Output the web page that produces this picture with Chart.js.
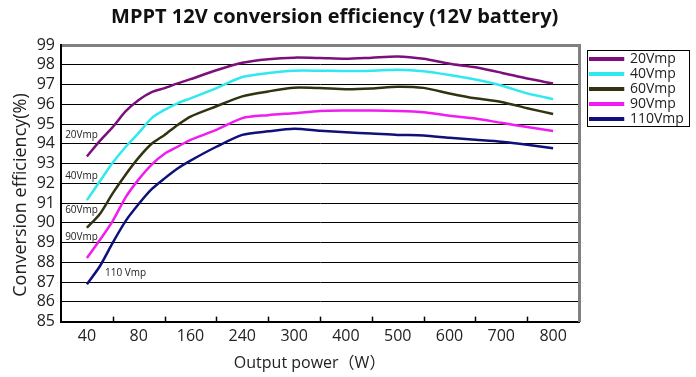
<!DOCTYPE html>
<html><head><meta charset="utf-8">
<script src="https://cdn.jsdelivr.net/npm/chart.js@4/dist/chart.umd.min.js"></script>
<style>html,body{margin:0;padding:0;background:#fff;}#wrap{width:696px;height:377px;}</style>
</head><body><div id="wrap"><canvas id="c" width="696" height="377"></canvas></div>
<script>
// Category tick labels of the output-power axis (evenly spaced categories)
const xTickLabels = ['40','80','160','240','300','400','500','600','700','800'];
// Sample positions along the category axis (0 = "40", 9 = "800")
const samplePos = [0,0.25,0.5,0.75,1,1.25,1.5,1.75,2,2.5,3,3.5,4,4.5,5,5.5,6,6.5,7,7.5,8,8.5,9];
const eff20 = [93.36,94.15,94.85,95.65,96.22,96.62,96.82,97.06,97.27,97.72,98.10,98.28,98.36,98.34,98.30,98.36,98.42,98.30,98.05,97.87,97.60,97.30,97.05];
const eff40 = [91.15,92.10,93.05,93.85,94.55,95.30,95.72,96.05,96.30,96.82,97.38,97.58,97.70,97.70,97.68,97.70,97.75,97.67,97.48,97.25,96.95,96.55,96.26];
const eff60 = [89.75,90.45,91.50,92.45,93.30,94.00,94.45,94.95,95.38,95.90,96.40,96.65,96.84,96.82,96.76,96.80,96.89,96.83,96.55,96.30,96.12,95.80,95.51];
const eff90 = [88.22,89.13,90.10,91.30,92.20,92.95,93.50,93.85,94.20,94.70,95.30,95.45,95.55,95.66,95.68,95.68,95.66,95.60,95.42,95.28,95.06,94.85,94.65];
const eff110 = [86.89,87.80,89.00,90.10,90.95,91.70,92.25,92.75,93.15,93.85,94.45,94.63,94.76,94.66,94.58,94.52,94.45,94.42,94.30,94.20,94.10,93.95,93.77];
const seriesNames = ['20Vmp','40Vmp','60Vmp','90Vmp','110Vmp'];
const seriesValues = [eff20, eff40, eff60, eff90, eff110];
const seriesColors = ['#7d0f7c','#2ee9ef','#333311','#f01cf0','#10107a'];
// In-plot curve labels, anchored in data space (category position, efficiency)
const curveLabelText = ['20Vmp','40Vmp','60Vmp','90Vmp','110 Vmp'];
const curveLabelPos = [-0.42,-0.42,-0.42,-0.42,0.35];
const curveLabelEff = [94.42,92.38,90.62,89.29,87.47];

const FONT = "'Open Sans','Noto Sans CJK SC',sans-serif";
const TXT = '#222';

const decor = {
  id: 'decor',
  afterDatasetsDraw(chart) {
    const {ctx, chartArea} = chart;
    const xs = chart.scales.x, ys = chart.scales.y;
    ctx.save();
    ctx.strokeStyle = '#000';
    ctx.lineWidth = 1.5;
    for (let k = 1; k < xTickLabels.length; k++) {
      const px = Math.round(xs.getPixelForValue(k - 0.5)) + 0.5;
      ctx.beginPath();
      ctx.moveTo(px, chartArea.bottom);
      ctx.lineTo(px, chartArea.bottom - 5);
      ctx.stroke();
    }
    ctx.fillStyle = TXT;
    ctx.font = "10px " + FONT;
    ctx.textBaseline = 'middle';
    ctx.textAlign = 'left';
    curveLabelText.forEach((t, i) => {
      ctx.fillText(t, xs.getPixelForValue(curveLabelPos[i]), ys.getPixelForValue(curveLabelEff[i]));
    });
    ctx.restore();
  },
  afterDraw(chart) {
    const hb = chart.legend && chart.legend.legendHitBoxes;
    if (!hb || !hb.length) return;
    let l = Infinity, t = Infinity, r = -Infinity, b = -Infinity;
    hb.forEach(h => { l = Math.min(l, h.left); t = Math.min(t, h.top); r = Math.max(r, h.left + h.width); b = Math.max(b, h.top + h.height); });
    const ctx = chart.ctx;
    ctx.save();
    ctx.strokeStyle = '#000';
    ctx.lineWidth = 1;
    ctx.strokeRect(Math.round(l - 3) + 0.5, Math.round(t - 2) + 0.5, Math.round(r - l + 8), Math.round(b - t + 2));
    ctx.restore();
  }
};

new Chart(document.getElementById('c'), {
  type: 'line',
  data: {
    datasets: seriesNames.map((name, s) => ({
      label: name,
      data: samplePos.map((p, i) => ({x: p, y: seriesValues[s][i]})),
      borderColor: seriesColors[s],
      backgroundColor: seriesColors[s],
      borderWidth: 2.5,
      pointRadius: 0,
      tension: 0.25,
      fill: false
    }))
  },
  options: {
    responsive: false,
    devicePixelRatio: 1,
    animation: false,
    layout: {padding: {left: 0, right: 11, top: 0, bottom: 0}},
    scales: {
      x: {
        type: 'linear',
        min: -0.5,
        max: 9.5,
        afterBuildTicks: (s) => { s.ticks = xTickLabels.map((_, i) => ({value: i})); },
        ticks: {
          autoSkip: false, maxRotation: 0, padding: 5,
          color: TXT, font: {family: FONT, size: 16},
          callback: (v) => xTickLabels[v]
        },
        grid: {drawOnChartArea: false, drawTicks: false},
        border: {color: '#000', width: 2},
        title: {display: true, text: 'Output power（W）     ', color: TXT, font: {family: FONT, size: 16}, padding: {top: 3, bottom: 4}}
      },
      y: {
        min: 85, max: 99,
        afterFit: (s) => { s.width = 61; },
        ticks: {stepSize: 1, autoSkip: false, padding: 6, color: TXT, font: {family: FONT, size: 16}},
        grid: {
          drawTicks: false,
          color: (c) => (c.tick && c.tick.value === 99) ? '#808080' : '#000',
          lineWidth: (c) => (c.tick && c.tick.value === 99) ? 3 : 1
        },
        border: {color: '#000', width: 2},
        title: {display: true, text: 'Conversion efficiency(%)     ', color: TXT, font: {family: FONT, size: 18}, padding: {top: 10, bottom: 4}}
      },
      y2: {
        type: 'linear',
        position: 'right',
        display: true,
        afterFit: (s) => { s.width = 10; },
        ticks: {display: false},
        grid: {drawOnChartArea: false, drawTicks: false},
        border: {color: '#808080', width: 3}
      }
    },
    plugins: {
      title: {
        display: true,
        text: 'MPPT 12V conversion efficiency (12V battery)   ',
        color: '#111',
        font: {family: FONT, size: 20, weight: 'bold'},
        padding: {top: 5, bottom: 16}
      },
      legend: {
        position: 'right',
        align: 'start',
        fullSize: false,
        maxWidth: 96,
        title: {display: true, text: '', font: {size: 1, lineHeight: 1}, padding: {top: 5, bottom: 0}},
        labels: {
          boxWidth: 33, boxHeight: 1.5, padding: 1,
          color: TXT, font: {family: FONT, size: 14}
        }
      },
      tooltip: {enabled: false}
    }
  },
  plugins: [decor]
});
</script></body></html>
